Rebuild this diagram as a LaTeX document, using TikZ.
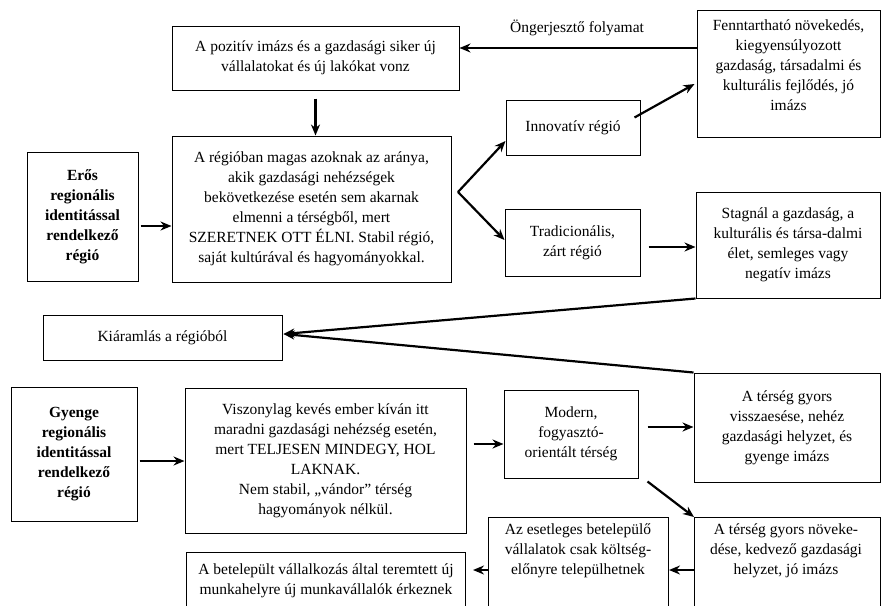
\documentclass[tikz,border=0pt]{standalone}
\usepackage{fontspec}
\setmainfont{Liberation Serif}
\usetikzlibrary{arrows.meta,calc}
\newcommand{\dgfs}{\fontsize{15.5}{20}\selectfont}
\begin{document}
\begin{tikzpicture}[x=1pt,y=-1pt,
  box/.style={draw, line width=1pt, inner sep=0pt, align=center, font=\dgfs},
  bbox/.style={box, font=\dgfs\bfseries},
  txt/.style={inner sep=0pt, align=center, font=\dgfs},
  arr/.style={line width=2.2pt, -{Stealth[length=11pt,width=9pt]}}]
\useasboundingbox (0,0) rectangle (882,605);
\clip (0,0) rectangle (882,605);

% boxes
\node[box, minimum width=287pt, minimum height=64pt] (poz) at (315.5,58)
  {A pozitív imázs és a gazdasági siker új\\vállalatokat és új lakókat vonz};
\node[box, minimum width=183pt, minimum height=127pt] (fennt) at (788.5,73.5) {};
\node[txt] (fenntT) at (788.5,65)
  {Fenntartható növekedés,\\kiegyensúlyozott\\gazdaság, társadalmi és\\kulturális fejlődés, jó\\imázs};
\node[box, minimum width=134pt, minimum height=55pt] (inno) at (573,127.5) {Innovatív régió};
\node[bbox, minimum width=111pt, minimum height=129pt] (eros) at (82.5,216.5)
  {Erős\\regionális\\identitással\\rendelkező\\régió};
\node[box, minimum width=279pt, minimum height=146pt] (big) at (311.5,209)
  {A régióban magas azoknak az aránya,\\akik gazdasági nehézségek\\bekövetkezése esetén sem akarnak\\elmenni a térségből, mert\\SZERETNEK OTT ÉLNI. Stabil régió,\\saját kultúrával és hagyományokkal.};
\node[box, minimum width=135pt, minimum height=67pt] (trad) at (572.5,242.5)
  {Tradicionális,\\zárt régió};
\node[box, minimum width=184pt, minimum height=106pt] (stag) at (788,245)
  {Stagnál a gazdaság, a\\kulturális és társa-dalmi\\élet, semleges vagy\\negatív imázs};
\node[box, minimum width=239pt, minimum height=45pt] (kia) at (162.5,337.5)
  {Kiáramlás a régióból};
\node[bbox, minimum width=126pt, minimum height=134pt] (gyenge) at (74,454)
  {Gyenge\\regionális\\identitással\\rendelkező\\régió};
\node[box, minimum width=281pt, minimum height=145pt] (visz) at (325.5,460.5)
  {Viszonylag kevés ember kíván itt\\maradni gazdasági nehézség esetén,\\mert TELJESEN MINDEGY, HOL\\LAKNAK.\\Nem stabil, „vándor” térség\\hagyományok nélkül.};
\node[box, minimum width=134pt, minimum height=88pt] (modern) at (571,434)
  {Modern,\\fogyasztó-\\orientált térség};
\node[box, minimum width=186pt, minimum height=109pt] (vissza) at (787,427.5)
  {A térség gyors\\visszaesése, nehéz\\gazdasági helyzet, és\\gyenge imázs};
\node[box, anchor=north west, minimum width=186pt, minimum height=140pt] (nov) at (694,517) {};
\node[txt] (novT) at (786,551)
  {A térség gyors növeke-\\dése, kedvező gazdasági\\helyzet, jó imázs};
\node[box, anchor=north west, minimum width=180pt, minimum height=140pt] (eset) at (488,517) {};
\node[txt] (esetT) at (578,551)
  {Az esetleges betelepülő\\vállalatok csak költség-\\előnyre települhetnek};
\node[box, anchor=north west, minimum width=279pt, minimum height=100pt] (betel) at (186,552) {};
\node[txt] (betelT) at (326,581)
  {A betelepült vállalkozás által teremtett új\\munkahelyre új munkavállalók érkeznek};

\node[txt] (onger) at (577,28) {Öngerjesztő folyamat};

% connectors
\draw[arr] (fennt.west |- 0,48) -- (poz.east |- 0,48);
\draw[arr] ($(poz.south)+(0,8)$) -- (poz.south |- big.north);
\draw[arr] ($(eros.east |- 0,226)+(2,0)$) -- (big.west |- 0,226);
\coordinate (apex) at (458,192);
\draw[arr] (apex) -- (inno.west |- 0,141);
\draw[arr] (apex) -- (trad.west |- 0,240);
\draw[arr] ($(inno.east)+(-6,-10)$) -- ($(fennt.west |- 0,84)+(-2,0)$);
\draw[arr] ($(trad.east |- 0,247)+(8,0)$) -- (stag.west |- 0,247);
\draw[arr] (stag.south west) -- ($(kia.east |- 0,334)+(1,0)$);
\draw[arr] (vissza.north west) -- ($(kia.east |- 0,334)+(1,0)$);
\draw[arr] ($(gyenge.east |- 0,461)+(2,0)$) -- (visz.west |- 0,461);
\draw[arr] ($(visz.east |- 0,444)+(7,0)$) -- (modern.west |- 0,444);
\draw[arr] ($(modern.east |- 0,427)+(9,0)$) -- (vissza.west |- 0,427);
\draw[arr] ($(modern.south east)+(9,3)$) -- (nov.north west);
\draw[arr] (nov.west |- 0,570) -- (eset.east |- 0,570);
\draw[arr] (eset.west |- 0,570) -- ($(betel.east |- 0,570)+(7,0)$);
\end{tikzpicture}
\end{document}
